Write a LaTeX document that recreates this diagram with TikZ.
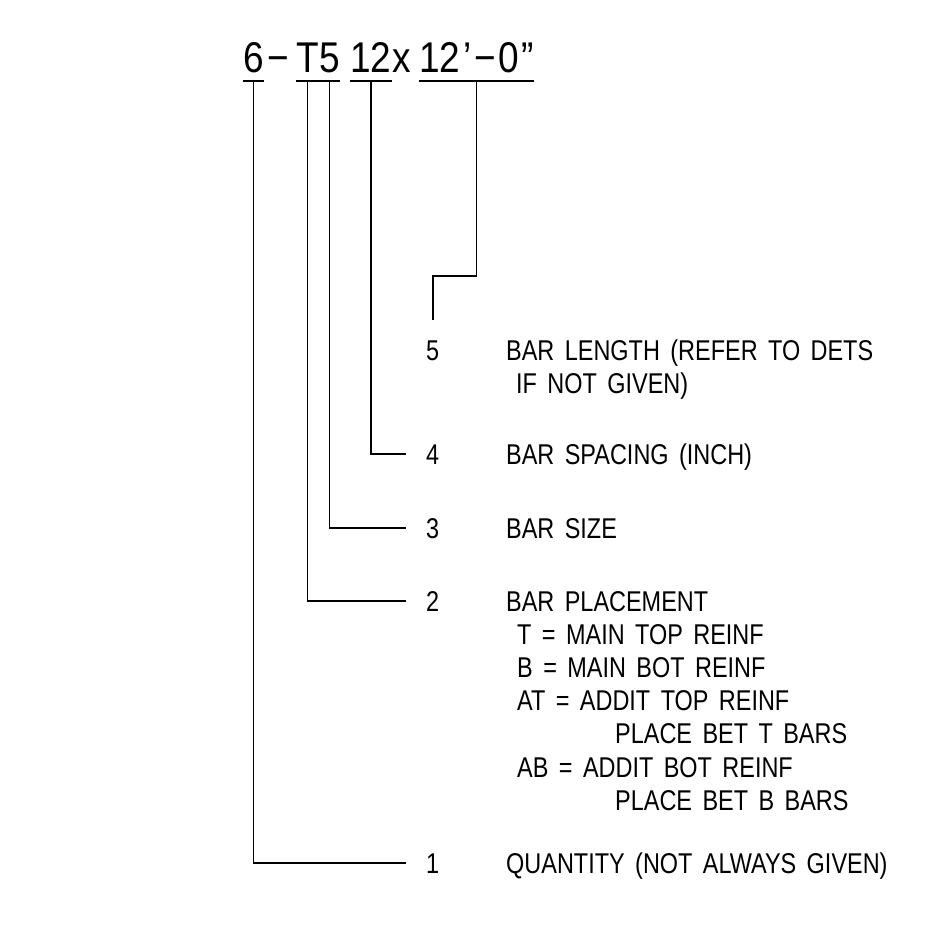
\documentclass[tikz,border=0pt]{standalone}
\usepackage{fontspec}
\setmainfont{Liberation Sans}
\newfontfamily\cadfont[FakeStretch=0.82,WordSpace=1.6]{Liberation Sans}
\newfontfamily\topfont[FakeStretch=0.86]{Liberation Sans}
\begin{document}
\begin{tikzpicture}[x=1pt,y=-1pt,
  lbl/.style={anchor=base west, inner sep=0pt, font=\cadfont\fontsize{28.6}{33}\selectfont},
  topt/.style={anchor=base west, inner sep=0pt, font=\topfont\fontsize{43}{50}\selectfont},
  ldr/.style={line width=1.6pt, line join=miter}]
\useasboundingbox (0,0) rectangle (925,934);
% top designation
\node[topt] (t6)  at (243,73) {6};
\node[topt] (td)  at (267,73) {−};
\node[topt] (tT)  at (296,73) {T};
\node[topt] (t5)  at (319,73) {5};
\node[topt] (t12) at (350,73) {12};
\node[topt] (tx)  at (392,73) {x};
\node[topt] (tL)  at (419,73) {12\kern3pt’\kern3pt−\kern2pt0\kern3pt”};
% labels
\node[lbl] (n5) at (426,360) {5};
\node[lbl] (d5) at (506,360) {BAR LENGTH (REFER TO DETS};
\node[lbl] (d5b) at (516,393) {IF NOT GIVEN)};
\node[lbl] (n4) at (426,464) {4};
\node[lbl] (d4) at (506,464) {BAR SPACING (INCH)};
\node[lbl] (n3) at (426,538) {3};
\node[lbl] (d3) at (506,538) {BAR SIZE};
\node[lbl] (n2) at (426,611) {2};
\node[lbl] (d2) at (506,611) {BAR PLACEMENT};
\node[lbl] (d2a) at (517,644) {T = MAIN TOP REINF};
\node[lbl] (d2b) at (517,677) {B = MAIN BOT REINF};
\node[lbl] (d2c) at (517,710) {AT = ADDIT TOP REINF};
\node[lbl] (d2d) at (615,743) {PLACE BET T BARS};
\node[lbl] (d2e) at (517,777) {AB = ADDIT BOT REINF};
\node[lbl] (d2f) at (615,810) {PLACE BET B BARS};
\node[lbl] (n1) at (426,873) {1};
\node[lbl] (d1) at (506,873) {QUANTITY (NOT ALWAYS GIVEN)};
% underlines
\foreach \n in {t6,tT,t5,t12,tL}
  \draw[ldr] ([yshift=-8pt]\n.base west) -- ([yshift=-8pt]\n.base east);
% leaders
\coordinate (k5) at (433,320);
\draw[ldr] ([yshift=-8pt]tL.base) -- ++(0,195) -| (k5);
\draw[ldr] ([yshift=-8pt]t12.base) |- ([xshift=-20pt]n4.west);
\draw[ldr] ([yshift=-8pt]t5.base) |- ([xshift=-20pt]n3.west);
\draw[ldr] ([yshift=-8pt]tT.base) |- ([xshift=-20pt]n2.west);
\draw[ldr] ([yshift=-8pt]t6.base) |- ([xshift=-20pt]n1.west);
\end{tikzpicture}
\end{document}
